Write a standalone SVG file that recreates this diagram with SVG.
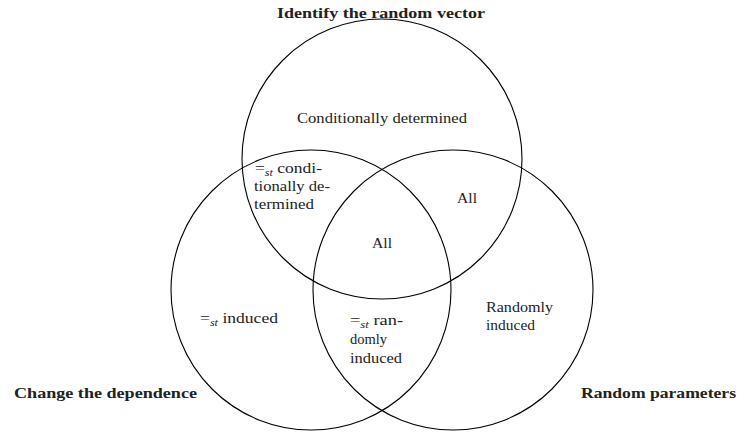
<svg xmlns="http://www.w3.org/2000/svg" width="737" height="432" viewBox="0 0 737 432" font-family="Liberation Serif, Times New Roman, DejaVu Serif, serif">
<style>
.c{fill:none;stroke:#000;stroke-width:1.1}
.t{font-family:'Liberation Serif','Times New Roman','DejaVu Serif','Noto Serif',serif;font-size:14.5px;fill:#222}
.b{font-family:'Liberation Serif','Times New Roman','DejaVu Serif','Noto Serif',serif;font-size:14px;font-weight:bold;fill:#222}
.s{font-size:10px;font-style:italic}
</style>
<rect width="737" height="432" fill="#fff"/>
<g id="circle-identify">
<circle class="c" cx="382" cy="159" r="140"/>
<text class="b" x="277" y="18" textLength="208" lengthAdjust="spacingAndGlyphs">Identify the random vector</text>
</g>
<g id="circle-change">
<circle class="c" cx="311" cy="290" r="140"/>
<text class="b" x="14" y="398" textLength="183" lengthAdjust="spacingAndGlyphs">Change the dependence</text>
</g>
<g id="circle-random">
<circle class="c" cx="453" cy="290" r="140"/>
<text class="b" x="581" y="398" textLength="155" lengthAdjust="spacingAndGlyphs">Random parameters</text>
</g>
<g id="region-top">
<text class="t" x="297" y="123" textLength="170" lengthAdjust="spacingAndGlyphs">Conditionally determined</text>
</g>
<g id="region-top-left">
<text class="t" x="255" y="173" textLength="67" lengthAdjust="spacingAndGlyphs">=<tspan class="s" dy="3">st</tspan><tspan dy="-3"> condi-</tspan></text>
<text class="t" x="254" y="191" textLength="76" lengthAdjust="spacingAndGlyphs">tionally de-</text>
<text class="t" x="254" y="209" textLength="60" lengthAdjust="spacingAndGlyphs">termined</text>
</g>
<g id="region-top-right">
<text class="t" x="457" y="203" textLength="20" lengthAdjust="spacingAndGlyphs">All</text>
</g>
<g id="region-center">
<text class="t" x="372" y="248" textLength="20" lengthAdjust="spacingAndGlyphs">All</text>
</g>
<g id="region-left">
<text class="t" x="200" y="323" textLength="78" lengthAdjust="spacingAndGlyphs">=<tspan class="s" dy="3">st</tspan><tspan dy="-3"> induced</tspan></text>
</g>
<g id="region-right">
<text class="t" x="486" y="312" textLength="67" lengthAdjust="spacingAndGlyphs">Randomly</text>
<text class="t" x="486" y="330" textLength="49" lengthAdjust="spacingAndGlyphs">induced</text>
</g>
<g id="region-bottom">
<text class="t" x="350" y="325" textLength="53" lengthAdjust="spacingAndGlyphs">=<tspan class="s" dy="3">st</tspan><tspan dy="-3"> ran-</tspan></text>
<text class="t" x="350" y="344" textLength="37" lengthAdjust="spacingAndGlyphs">domly</text>
<text class="t" x="350" y="363" textLength="52" lengthAdjust="spacingAndGlyphs">induced</text>
</g>
<g id="connectors"></g>
</svg>
